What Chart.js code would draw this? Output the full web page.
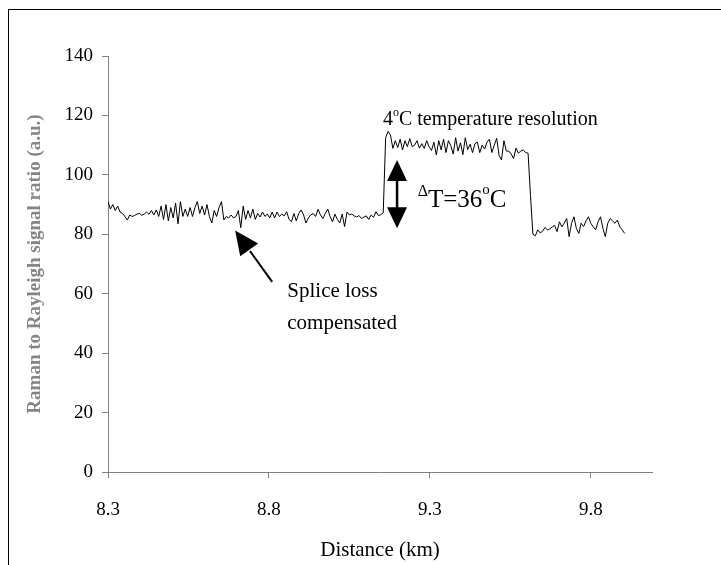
<!DOCTYPE html>
<html>
<head>
<meta charset="utf-8">
<script src="https://cdn.jsdelivr.net/npm/chart.js@4"></script>
<style>
  html, body { margin: 0; padding: 0; background: #fff; }
  #wrap { position: relative; width: 721px; height: 565px; overflow: hidden; }
  #frame { position: absolute; left: 8px; top: 9px; width: 760px; height: 620px; border: 1px solid #000; }
  canvas { position: absolute; left: 0; top: 0; }
</style>
</head>
<body>
<div id="wrap">
  <div id="frame"></div>
  <canvas id="ramanChart" width="721" height="565"></canvas>
</div>
<script>
// ======= Data =======
const startKm = 8.3;
const stepKm = 0.0075;   // sampling step along the fibre
const ratio = [
  91, 88.5, 90, 88, 89.5, 87.5, 87, 86, 84.8, 86.5,
  86, 86.3, 86.8, 87, 86.4, 86.8, 87.5, 86.7, 88, 86.5,
  88.2, 86, 89.5, 85, 90, 84.5, 89, 85.5, 90.5, 83.5,
  91, 86, 88.5, 86, 89, 86, 89, 91, 87, 89.5,
  86.5, 90, 86, 83.8, 88, 86, 89, 91, 84.8, 86,
  85.5, 86.5, 85.5, 86, 88, 82.2, 89.5, 85, 88, 85.5,
  88.5, 85, 87, 85.8, 87.5, 86, 86.8, 85.5, 87.5, 85.5,
  87.5, 86, 86.8, 86.2, 87.6, 85, 84.2, 87, 84.5, 87,
  88.2, 86.5, 83.8, 85.5, 86.5, 87, 86, 88.4, 86.5, 85.3,
  87, 88.5, 86, 84.2, 86.8, 85, 83.8, 86.8, 82.6, 87.5,
  86.5, 86.8, 86.2, 85.8, 86.3, 85.3, 85.8, 86.2, 85, 86.5,
  85.7, 87.6, 86.3, 86.6, 87.2, 112.5, 114.6, 113.4, 108.9, 111.5,
  109.2, 112, 108.4, 111.5, 109.5, 112.2, 109.5, 110, 111.5, 109,
  110.5, 108.9, 111.5, 109.5, 108.2, 111, 106.7, 111.5, 108.4, 112,
  107.5, 111.5, 109.8, 107, 112.5, 108, 110.8, 106.8, 112.5, 108.5,
  110.3, 107.5, 110.5, 111, 107.5, 110, 108.7, 111, 112, 107.5,
  110, 112.3, 106.5, 105, 111.5, 108, 108, 107, 105.5, 109,
  107.3, 108, 108.4, 107.5, 107.3, 93, 80, 79.5, 81.5, 80.5,
  81, 82.3, 81.5, 81.8, 82.5, 83, 80.9, 84.2, 82.5, 83.8,
  85.3, 79.2, 83.7, 85.9, 82, 80.3, 83.7, 82.6, 84.5, 85.9,
  83.7, 82.5, 81.5, 84.2, 85.9, 82, 79.2, 83.7, 85.3, 84.5,
  83.7, 84.8, 82.5, 81.5, 80.3
];
const distance = ratio.map((_, i) => +(startKm + i * stepKm).toFixed(4));

const xTicks = [8.3, 8.8, 9.3, 9.8];
const yTicks = [0, 20, 40, 60, 80, 100, 120, 140];

const serif = "'Liberation Serif', 'Times New Roman', serif";

// ======= Text and arrows on top of the plot =======
function arrowHead(ctx, tx, ty, dx, dy, len, wid) {
  const n = Math.hypot(dx, dy);
  const ux = dx / n, uy = dy / n;
  const bx = tx - ux * len, by = ty - uy * len;
  ctx.beginPath();
  ctx.moveTo(tx, ty);
  ctx.lineTo(bx - uy * wid / 2, by + ux * wid / 2);
  ctx.lineTo(bx + uy * wid / 2, by - ux * wid / 2);
  ctx.closePath();
  ctx.fill();
}

const notesPlugin = {
  id: "notes",
  afterDraw(chart) {
    const ctx = chart.ctx;
    const xs = chart.scales.x, ys = chart.scales.y;
    const px = v => xs.getPixelForValue(v);
    const py = v => ys.getPixelForValue(v);
    ctx.save();
    ctx.fillStyle = "#000";
    ctx.strokeStyle = "#000";
    ctx.textBaseline = "alphabetic";
    ctx.textAlign = "left";

    // 4oC temperature resolution
    let x = px(9.154), y = py(116.8);
    ctx.font = "20px " + serif;
    ctx.fillText("4", x, y);
    x += ctx.measureText("4").width;
    ctx.font = "12px " + serif;
    ctx.fillText("o", x, y - 9);
    x += ctx.measureText("o").width;
    ctx.font = "20px " + serif;
    ctx.fillText("C temperature resolution", x, y);

    // delta T = 36oC
    x = px(9.262); y = py(89.3);
    ctx.font = "16px " + serif;
    ctx.fillText("\u0394", x, y - 11);
    x += ctx.measureText("\u0394").width;
    ctx.font = "25px " + serif;
    ctx.fillText("T=36", x, y);
    x += ctx.measureText("T=36").width;
    ctx.font = "15px " + serif;
    ctx.fillText("o", x, y - 13);
    x += ctx.measureText("o").width;
    ctx.font = "25px " + serif;
    ctx.fillText("C", x, y);

    // double arrow
    const ax = px(9.198), aTop = py(105), aBot = py(82);
    ctx.lineWidth = 2.5;
    ctx.beginPath();
    ctx.moveTo(ax, aTop + 10);
    ctx.lineTo(ax, aBot - 10);
    ctx.stroke();
    arrowHead(ctx, ax, aTop, 0, -1, 21, 20);
    arrowHead(ctx, ax, aBot, 0, 1, 21, 20);

    // splice arrow
    const tipX = px(8.695), tipY = py(81.3);
    const tailX = px(8.81), tailY = py(64);
    ctx.lineWidth = 2;
    ctx.beginPath();
    ctx.moveTo(tailX, tailY);
    ctx.lineTo(tipX + (tailX - tipX) * 0.4, tipY + (tailY - tipY) * 0.4);
    ctx.stroke();
    arrowHead(ctx, tipX, tipY, tipX - tailX, tipY - tailY, 24, 22);

    ctx.font = "21px " + serif;
    ctx.fillText("Splice loss", px(8.857), py(58.9));
    ctx.fillText("compensated", px(8.857), py(48.1));

    // y axis title
    ctx.save();
    ctx.translate(35, (chart.chartArea.top + chart.chartArea.bottom) / 2);
    ctx.rotate(-Math.PI / 2);
    ctx.textAlign = "center";
    ctx.textBaseline = "middle";
    ctx.fillStyle = "#858585";
    ctx.font = "bold 19px " + serif;
    ctx.fillText("Raman to Rayleigh signal ratio (a.u.)", 0, 0);
    ctx.restore();

    ctx.restore();
  }
};

const ctx = document.getElementById("ramanChart").getContext("2d");
const ramanChart = new Chart(ctx, {
  type: "line",
  data: {
    datasets: [{
      data: distance.map((d, i) => ({ x: d, y: ratio[i] })),
      borderColor: "#000",
      borderWidth: 1,
      pointRadius: 0,
      tension: 0,
      fill: false
    }]
  },
  options: {
    responsive: false,
    animation: false,
    devicePixelRatio: 1,
    layout: { padding: { left: 0, right: 69, top: 56, bottom: 0 } },
    plugins: { legend: { display: false }, tooltip: { enabled: false } },
    scales: {
      x: {
        type: "linear",
        min: 8.3,
        max: 9.99,
        afterBuildTicks: s => { s.ticks = xTicks.map(v => ({ value: v })); },
        afterFit: s => { s.height = 93; },
        ticks: {
          callback: v => v.toFixed(1),
          color: "#000",
          font: { family: serif, size: 19 },
          padding: 21,
          maxRotation: 0
        },
        grid: { drawOnChartArea: false, drawTicks: true, tickLength: 6, color: "#808080" },
        border: { color: "#808080", width: 1 },
        title: {
          display: true,
          text: "Distance (km)",
          color: "#000",
          font: { family: serif, size: 21 },
          padding: { top: 0, bottom: 2 }
        }
      },
      y: {
        min: 0,
        max: 140,
        afterBuildTicks: s => { s.ticks = yTicks.map(v => ({ value: v })); },
        afterFit: s => { s.width = 108; },
        ticks: {
          color: "#000",
          font: { family: serif, size: 19 },
          padding: 9
        },
        grid: { drawOnChartArea: false, drawTicks: true, tickLength: 6, color: "#808080" },
        border: { color: "#808080", width: 1 }
      }
    }
  },
  plugins: [notesPlugin]
});
</script>
</body>
</html>
